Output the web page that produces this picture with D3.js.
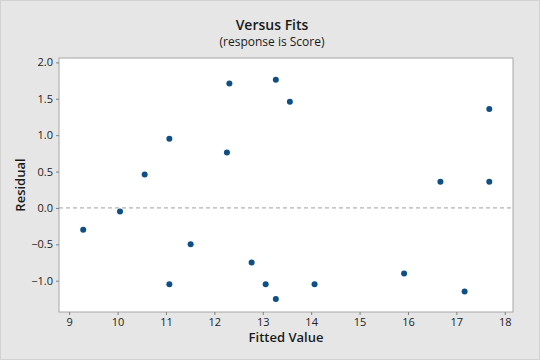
<!DOCTYPE html>
<html>
<head>
<meta charset="utf-8">
<script src="https://cdn.jsdelivr.net/npm/d3@7"></script>
<style>
  body { margin: 0; background: #e6e6e6; }
  svg { display: block; font-family: "Open Sans", "Noto Sans", sans-serif; }
</style>
</head>
<body>
<svg id="chart" width="540" height="360"></svg>
<script>
// residuals vs fitted values
var fitted    = [9.29, 10.05, 10.56, 11.07, 11.07, 11.51, 12.26, 12.31, 12.77, 13.06,
                 13.27, 13.27, 13.56, 14.07, 15.92, 16.67, 17.17, 17.68, 17.68];
var residuals = [-0.30, -0.05, 0.46, 0.95, -1.05, -0.50, 0.76, 1.71, -0.75, -1.05,
                 1.76, -1.25, 1.46, -1.05, -0.90, 0.36, -1.15, 1.36, 0.36];
var xTicks = [9, 10, 11, 12, 13, 14, 15, 16, 17, 18];
var yTicks = [-1.0, -0.5, 0.0, 0.5, 1.0, 1.5, 2.0];

var svg = d3.select('#chart');
var W = 540, H = 360;
var plot = { left: 59, top: 58, right: 513, bottom: 312 };

// outer frame
svg.append('rect')
    .attr('x', 0.5).attr('y', 0.5)
    .attr('width', W - 1).attr('height', H - 1)
    .attr('fill', '#e6e6e6')
    .attr('stroke', '#d2d2d2');

var x = d3.scaleLinear().domain([8.79, 18.17]).range([plot.left, plot.right]);
var y = d3.scaleLinear().domain([-1.43, 2.06]).range([plot.bottom, plot.top]);

svg.append('rect')
    .attr('x', plot.left).attr('y', plot.top)
    .attr('width', plot.right - plot.left)
    .attr('height', plot.bottom - plot.top)
    .attr('fill', 'white')
    .attr('stroke', '#a6a6a6');

// reference line at zero
svg.append('line')
    .attr('x1', plot.left).attr('x2', plot.right)
    .attr('y1', y(0)).attr('y2', y(0))
    .attr('stroke', '#a0a0a0')
    .attr('stroke-dasharray', '4,3');

var xAxis = svg.append('g')
    .attr('transform', `translate(0,${plot.bottom})`)
    .call(d3.axisBottom(x).tickValues(xTicks).tickSize(3).tickPadding(3).tickFormat(d3.format('d')));
var yAxis = svg.append('g')
    .attr('transform', `translate(${plot.left},0)`)
    .call(d3.axisLeft(y).tickValues(yTicks).tickSize(3).tickPadding(3).tickFormat(d3.format('.1f')));

[xAxis, yAxis].forEach(function(a) {
    a.select('.domain').remove();
    a.selectAll('.tick line').attr('stroke', '#808080');
    a.selectAll('.tick text')
        .attr('fill', '#222')
        .style('font-size', '11px')
        .style('font-family', '"Open Sans", "Noto Sans", sans-serif');
});

svg.append('g')
    .selectAll('circle')
    .data(fitted)
    .enter().append('circle')
    .attr('cx', function(d) { return x(d); })
    .attr('cy', function(d, i) { return y(residuals[i]); })
    .attr('r', 3)
    .attr('fill', '#0e4f85');

// titles
svg.append('text')
    .attr('x', 272).attr('y', 30)
    .attr('text-anchor', 'middle')
    .style('font-size', '14px').style('font-weight', '600')
    .attr('fill', '#1a1a1a')
    .text('Versus Fits');
svg.append('text')
    .attr('x', 272).attr('y', 46)
    .attr('text-anchor', 'middle')
    .style('font-size', '12px')
    .attr('fill', '#1a1a1a')
    .text('(response is Score)');

svg.append('text')
    .attr('x', 286).attr('y', 342)
    .attr('text-anchor', 'middle')
    .style('font-size', '13px').style('font-weight', '600')
    .attr('fill', '#1a1a1a')
    .text('Fitted Value');
svg.append('text')
    .attr('transform', 'translate(25,185) rotate(-90)')
    .attr('text-anchor', 'middle')
    .style('font-size', '13px').style('font-weight', '600')
    .attr('fill', '#1a1a1a')
    .text('Residual');
</script>
</body>
</html>
